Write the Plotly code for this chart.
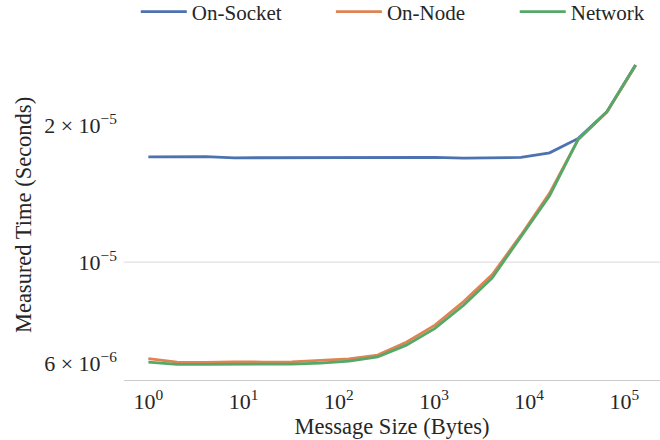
import plotly.graph_objects as go

# message sizes: powers of two, 1 B .. 128 KiB
sizes = [2 ** k for k in range(18)]

on_socket = [1.703e-5, 1.703e-5, 1.705e-5, 1.695e-5, 1.695e-5, 1.698e-5,
             1.697e-5, 1.697e-5, 1.696e-5, 1.695e-5, 1.699e-5, 1.692e-5,
             1.694e-5, 1.698e-5, 1.738e-5, 1.870e-5, 2.140e-5, 2.710e-5]
on_node = [6.14e-6, 6.03e-6, 6.02e-6, 6.04e-6, 6.03e-6, 6.04e-6,
           6.08e-6, 6.13e-6, 6.25e-6, 6.67e-6, 7.27e-6, 8.19e-6,
           9.39e-6, 1.146e-5, 1.418e-5, 1.860e-5, 2.135e-5, 2.705e-5]
network = [6.03e-6, 5.96e-6, 5.96e-6, 5.96e-6, 5.96e-6, 5.97e-6,
           6.00e-6, 6.06e-6, 6.19e-6, 6.57e-6, 7.15e-6, 8.04e-6,
           9.24e-6, 1.137e-5, 1.399e-5, 1.863e-5, 2.140e-5, 2.710e-5]

x_tickvals = [1, 10, 100, 1000, 10000, 100000]
x_ticktext = ["10<sup>0</sup>", "10<sup>1</sup>", "10<sup>2</sup>",
              "10<sup>3</sup>", "10<sup>4</sup>", "10<sup>5</sup>"]
y_tickvals = [6e-6, 1e-5, 2e-5]
y_ticktext = ["6 × 10<sup>−6</sup>", "10<sup>−5</sup>", "2 × 10<sup>−5</sup>"]

series = [
    ("On-Socket", on_socket, "#4c72b0", "legend", 0.022),
    ("On-Node", on_node, "#dd8452", "legend2", 0.386),
    ("Network", network, "#55a868", "legend3", 0.729),
]

FONT = "Liberation Serif, Times New Roman, DejaVu Serif, serif"

fig = go.Figure()
legend_layouts = {}
for name, values, color, leg, lx in series:
    fig.add_trace(go.Scatter(
        x=sizes, y=values, name=name, mode="lines", legend=leg,
        line=dict(color=color, width=2.8)
    ))
    # one legend per trace so the entries can be spread like the original
    legend_layouts[leg] = dict(
        orientation="h", x=lx, xanchor="left",
        y=1.115, yanchor="middle", font=dict(family=FONT, size=21),
        bgcolor="rgba(0,0,0,0)", itemwidth=46,
    )

# only the major (decade) tick gets a grid line
fig.add_hline(y=1e-5, line=dict(color="#d9d9d9", width=1), layer="below")

fig.update_layout(
    width=660, height=440,
    margin=dict(l=124, r=0, t=50, b=60, autoexpand=False),
    plot_bgcolor="white",
    paper_bgcolor="white",
    showlegend=True,
    font=dict(family=FONT, size=20, color="#262626"),
    **legend_layouts,
)

fig.update_xaxes(
    type="log", range=[-0.256, 5.374],
    tickvals=x_tickvals, ticktext=x_ticktext,
    tickfont=dict(family=FONT, size=22),
    showgrid=False, zeroline=False,
    showline=True, linecolor="#cccccc", linewidth=1,
    ticks="", ticklabelstandoff=2, automargin=False,
    title=dict(text="Message Size (Bytes)", standoff=3,
               font=dict(family=FONT, size=22.5)),
)
fig.update_yaxes(
    type="log", range=[-5.259, -4.534],
    tickvals=y_tickvals, ticktext=y_ticktext,
    tickfont=dict(family=FONT, size=22),
    showgrid=False, zeroline=False, showline=False,
    ticks="", ticklabelstandoff=6, automargin=False,
    title=dict(text="Measured Time (Seconds)", standoff=6,
               font=dict(family=FONT, size=22.5)),
)

# drop the browser's default body margin so the figure sits at 0,0
fig.write_html("out.html", config={"displayModeBar": False},
               post_script="document.body.style.margin='0';")
